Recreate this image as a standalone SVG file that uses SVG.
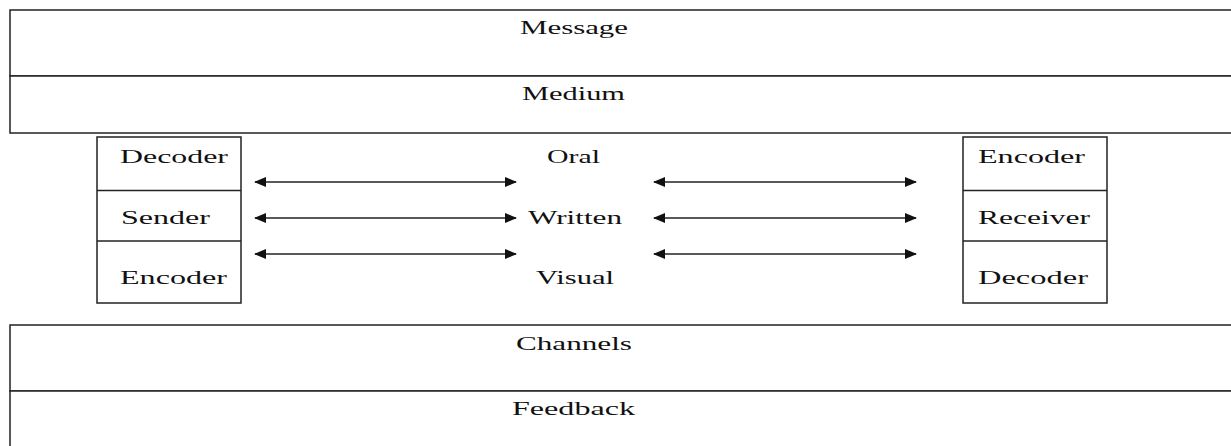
<svg xmlns="http://www.w3.org/2000/svg" width="1231" height="446" viewBox="0 0 1231 446">
<style>
.box{fill:#fff;stroke:#222;stroke-width:1.5}
.ln{stroke:#222;stroke-width:1.5;fill:none}
.t{font-family:"Liberation Serif","Times New Roman",serif;font-size:19px;fill:#111}
.c{stroke:#222;stroke-width:1.5;fill:none;marker-start:url(#ah);marker-end:url(#ah)}
</style>
<defs>
<marker id="ah" viewBox="0 0 12 10" refX="11" refY="5" markerWidth="12" markerHeight="10" markerUnits="userSpaceOnUse" orient="auto-start-reverse">
<path d="M0,0 L12,5 L0,10 z" fill="#111"/>
</marker>
</defs>
<rect width="1231" height="446" fill="#fff"/>
<g id="message">
<rect class="box" x="10" y="10" width="1240" height="66"/>
<text class="t" x="520" y="34" textLength="108" lengthAdjust="spacingAndGlyphs">Message</text>
</g>
<g id="medium">
<rect class="box" x="10" y="76" width="1240" height="57"/>
<text class="t" x="522" y="100" textLength="103" lengthAdjust="spacingAndGlyphs">Medium</text>
</g>
<g id="sender-stack">
<rect class="box" x="97" y="137" width="144" height="166"/>
<line class="ln" x1="97" y1="190.5" x2="241" y2="190.5"/>
<line class="ln" x1="97" y1="241" x2="241" y2="241"/>
<text class="t" x="120" y="163" textLength="108" lengthAdjust="spacingAndGlyphs">Decoder</text>
<text class="t" x="121" y="224" textLength="89" lengthAdjust="spacingAndGlyphs">Sender</text>
<text class="t" x="120" y="284" textLength="107" lengthAdjust="spacingAndGlyphs">Encoder</text>
</g>
<g id="receiver-stack">
<rect class="box" x="963" y="137" width="144" height="166"/>
<line class="ln" x1="963" y1="190.5" x2="1107" y2="190.5"/>
<line class="ln" x1="963" y1="241" x2="1107" y2="241"/>
<text class="t" x="978" y="163" textLength="107" lengthAdjust="spacingAndGlyphs">Encoder</text>
<text class="t" x="978" y="224" textLength="112" lengthAdjust="spacingAndGlyphs">Receiver</text>
<text class="t" x="978" y="284" textLength="110" lengthAdjust="spacingAndGlyphs">Decoder</text>
</g>
<g id="media-types">
<text class="t" x="547" y="163" textLength="53" lengthAdjust="spacingAndGlyphs">Oral</text>
<text class="t" x="528" y="224" textLength="94" lengthAdjust="spacingAndGlyphs">Written</text>
<text class="t" x="536" y="284" textLength="78" lengthAdjust="spacingAndGlyphs">Visual</text>
</g>
<g id="channels">
<rect class="box" x="10" y="325" width="1240" height="66"/>
<text class="t" x="516" y="350" textLength="116" lengthAdjust="spacingAndGlyphs">Channels</text>
</g>
<g id="feedback">
<rect class="box" x="10" y="391" width="1240" height="70"/>
<text class="t" x="512" y="415" textLength="123" lengthAdjust="spacingAndGlyphs">Feedback</text>
</g>
<g id="connectors">
<line class="c" x1="255" y1="182" x2="516" y2="182"/>
<line class="c" x1="255" y1="218" x2="516" y2="218"/>
<line class="c" x1="255" y1="254" x2="516" y2="254"/>
<line class="c" x1="654" y1="182" x2="916" y2="182"/>
<line class="c" x1="654" y1="218" x2="916" y2="218"/>
<line class="c" x1="654" y1="254" x2="916" y2="254"/>
</g>
</svg>
